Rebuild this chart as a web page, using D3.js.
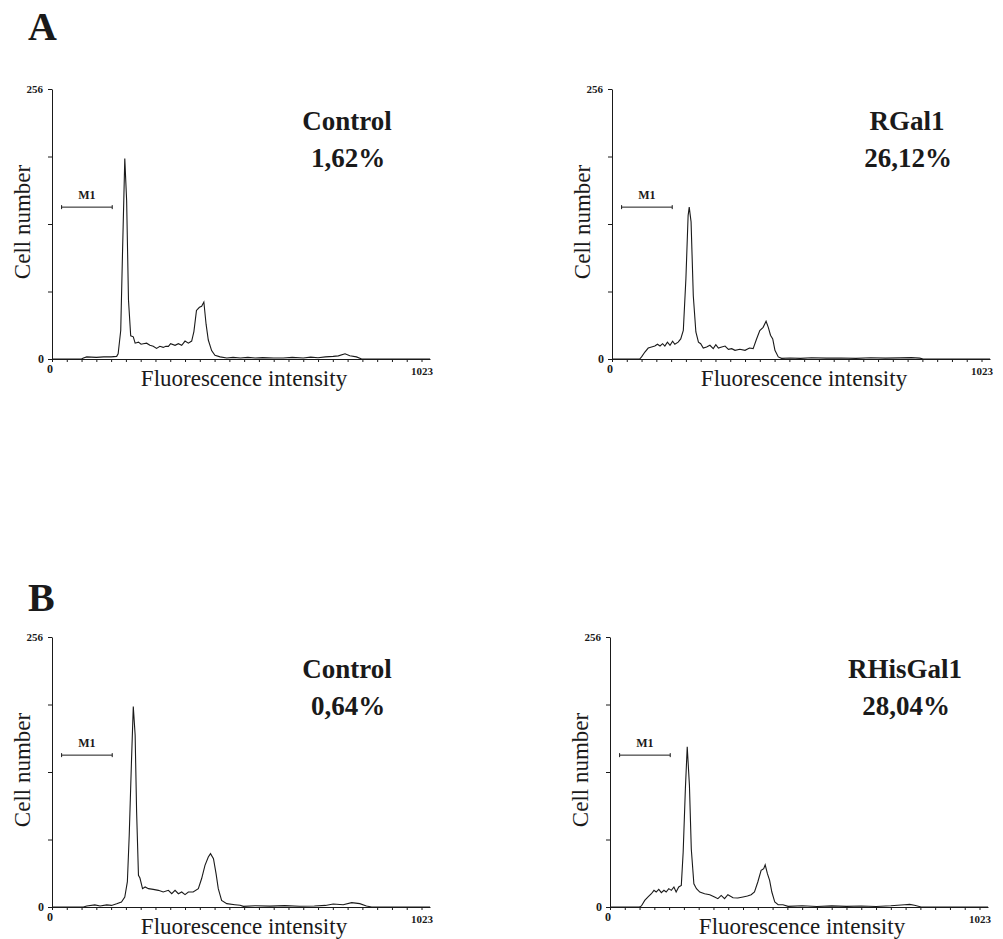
<!DOCTYPE html>
<html>
<head>
<meta charset="utf-8">
<title>Flow cytometry histograms</title>
<script src="https://d3js.org/d3.v7.min.js"></script>
<style>
body { margin: 0; background: #fff; }
svg text { font-family: "Liberation Serif", "Times New Roman", serif; fill: #1a1a1a; }
</style>
</head>
<body>
<div id="chart"></div>
<script>
// histogram data, [channel, cell count]
var controlA = [[0,0],[80,0],[85,1],[94,2],[120,1.5],[140,2],[160,2],[175,2.5],[179,5],[186,27],[191,103],[197,190],
  [202,150],[207,56],[213,22],[220,21],[225,15],[234,16],[241,14],[247,14.5],[256,15],[265,13],[274,12],[283,10],
  [292,12],[301,11],[308,12],[315,12],[321,14.5],[333,13],[342,14.5],[351,13],[360,17],[369,15],[378,17],[384,26],
  [391,46],[399,49],[405,50],[411,54],[417,33],[423,18],[432,8],[441,3.5],[455,2],[473,1],[490,1.5],[510,1],[530,1.5],
  [550,1],[570,1.3],[600,1],[626,1],[650,1.5],[680,1],[700,1.8],[720,1.2],[740,2],[761,2.5],[775,3],[793,5],[806,3],
  [824,2],[838,0],[1023,0]];
var rgal1 = [[0,0],[75,0],[80,2],[89,6.6],[98,10.4],[107,11.4],[116,12.3],[123,14],[130,12.3],[137,14.5],[143,12.3],
  [150,16],[157,13],[164,16.8],[170,14],[179,16],[186,19],[193,27],[200,76],[206,136],[209,144],[214,130],[220,60],
  [227,25.6],[234,16],[240,14.5],[247,10.4],[256,11.4],[265,13],[274,9.8],[281,13.6],[288,10.4],[297,11.4],[306,12.3],
  [315,9.2],[324,9.8],[333,8.2],[346,9.2],[360,8.2],[372,10.4],[382,9.8],[391,18.7],[400,27],[409,30],[417,35.8],
  [423,30],[429,22.5],[435,19],[441,8.2],[450,2],[459,0.6],[482,1],[510,0.6],[540,1.2],[580,0.8],[620,1],[660,0.6],
  [700,1.2],[740,0.8],[780,1.1],[810,1.3],[833,0.8],[842,0],[1023,0]];
var controlB = [[0,0],[85,0],[94,1],[116,2],[130,1],[148,2],[161,1.5],[175,3],[188,4.7],[197,9.5],[204,24],[209,68],
  [215,137],[220,190],[225,163],[229,90],[234,30],[238,27.5],[245,17.4],[252,19],[261,17.4],[274,16.7],[288,15.8],
  [301,14.2],[315,15.8],[324,12.6],[333,15.8],[342,12.6],[351,14.2],[360,11.7],[369,14.2],[382,14.2],[396,17.4],
  [405,27],[414,39.5],[423,47.4],[429,50.6],[437,45.8],[444,31.6],[450,17.4],[459,6.3],[473,3.2],[495,2.2],[509,1.6],
  [518,0.6],[550,1.2],[590,0.8],[630,1.3],[670,0.7],[710,1],[740,1.5],[761,2.8],[788,2.2],[811,4.1],[833,3.2],
  [851,1],[865,0],[1023,0]];
var rhisgal1 = [[0,0],[80,0],[85,1],[94,6.3],[103,9.5],[112,12.6],[119,15.8],[125,14.2],[132,16.7],[139,13.6],
  [146,15.8],[152,14.2],[159,17.4],[166,15.8],[173,19],[179,14.2],[186,19],[193,20.5],[198,52],[204,112],[209,152],
  [215,115],[220,55],[227,22],[234,17.4],[243,14.2],[256,12.6],[270,11.7],[283,9.5],[292,7.9],[301,11],[310,7.9],
  [319,11.7],[333,8.8],[346,8.5],[360,9.5],[372,10.4],[382,11.7],[391,14.2],[400,23.7],[409,34.8],[416,36.3],
  [420,40],[426,31.6],[432,25.3],[438,14.2],[446,4.7],[455,2.2],[468,2.2],[482,0.6],[520,1.2],[560,0.5],[600,1.1],
  [640,0.6],[680,1],[720,0.5],[760,1.2],[797,2.2],[811,2.5],[824,1.6],[842,0],[1023,0]];

var panelNames = ["Control", "RGal1", "Control", "RHisGal1"];
var panelPercents = ["1,62%", "26,12%", "0,64%", "28,04%"];
var panelSeries = [controlA, rgal1, controlB, rhisgal1];
var groupLetters = ["A", "B"];
var yTickValues = [0, 64, 128, 192, 256];
var m1Gate = [26, 163];
var m1Level = 144;

var W = 1003, H = 939;
var pw = 378, ph = 270;
var origins = [[52, 89], [612, 89], [52, 637], [610, 637]];
var letterPos = [[28, 40], [28, 611]];

var svg = d3.select("#chart").append("svg")
  .attr("width", W).attr("height", H)
  .style("background", "#fff");

var x = d3.scaleLinear().domain([0, 1023]).range([0, pw]);
var y = d3.scaleLinear().domain([0, 256]).range([ph, 0]);

var line = d3.line()
  .x(function(d) { return x(d[0]); })
  .y(function(d) { return y(d[1]); });

groupLetters.forEach(function(l, i) {
  svg.append("text")
    .attr("x", letterPos[i][0]).attr("y", letterPos[i][1])
    .style("font-size", "40px").style("font-weight", "bold")
    .text(l);
});

panelSeries.forEach(function(series, i) {
  var g = svg.append("g")
    .attr("transform", "translate(" + origins[i][0] + "," + origins[i][1] + ")");

  // y axis
  var ya = g.append("g")
    .call(d3.axisLeft(y).tickValues(yTickValues).tickSize(4).tickSizeOuter(0).tickFormat(""));
  ya.selectAll("path,line").attr("stroke", "#1a1a1a").attr("stroke-width", 1);

  // x axis
  var xa = g.append("g")
    .attr("transform", "translate(0," + ph + ")")
    .call(d3.axisBottom(x).tickValues(d3.range(0, 1024, 40)).tickSize(3).tickSizeOuter(0).tickFormat(""));
  xa.selectAll("path,line").attr("stroke", "#1a1a1a").attr("stroke-width", 1);

  // tick labels
  g.append("text").attr("x", -9).attr("y", y(256) + 4)
    .attr("text-anchor", "end").style("font-size", "11px").style("font-weight", "bold").text("256");
  g.append("text").attr("x", -8).attr("y", y(0) + 4)
    .attr("text-anchor", "end").style("font-size", "12px").style("font-weight", "bold").text("0");
  g.append("text").attr("x", x(0) - 2).attr("y", ph + 14)
    .attr("text-anchor", "middle").style("font-size", "12px").style("font-weight", "bold").text("0");
  g.append("text").attr("x", x(1023) + 3).attr("y", ph + 16)
    .attr("text-anchor", "end").style("font-size", "11px").style("font-weight", "bold").text("1023");

  // axis titles
  g.append("text")
    .attr("transform", "translate(-22," + (ph / 2 - 2) + ") rotate(-90)")
    .attr("text-anchor", "middle").style("font-size", "23px")
    .text("Cell number");
  g.append("text")
    .attr("x", pw / 2 + 3).attr("y", ph + 27)
    .attr("text-anchor", "middle").style("font-size", "23px")
    .text("Fluorescence intensity");

  // histogram
  g.append("path")
    .datum(series)
    .attr("d", line)
    .attr("fill", "none")
    .attr("stroke", "#1a1a1a")
    .attr("stroke-width", 1.1);

  // M1 gate marker
  var my = y(m1Level);
  g.append("line")
    .attr("x1", x(m1Gate[0])).attr("x2", x(m1Gate[1]))
    .attr("y1", my).attr("y2", my)
    .attr("stroke", "#1a1a1a").attr("stroke-width", 1);
  m1Gate.forEach(function(c) {
    g.append("line")
      .attr("x1", x(c)).attr("x2", x(c))
      .attr("y1", my - 2).attr("y2", my + 2)
      .attr("stroke", "#1a1a1a").attr("stroke-width", 1);
  });
  g.append("text")
    .attr("x", (x(m1Gate[0]) + x(m1Gate[1])) / 2).attr("y", my - 8)
    .attr("text-anchor", "middle").style("font-size", "12px").style("font-weight", "bold")
    .text("M1");

  // panel title and percentage
  g.append("text")
    .attr("x", 295).attr("y", 41)
    .attr("text-anchor", "middle").style("font-size", "27px").style("font-weight", "bold")
    .text(panelNames[i]);
  g.append("text")
    .attr("x", 296).attr("y", 78)
    .attr("text-anchor", "middle").style("font-size", "27px").style("font-weight", "bold")
    .text(panelPercents[i]);
});
</script>
</body>
</html>
